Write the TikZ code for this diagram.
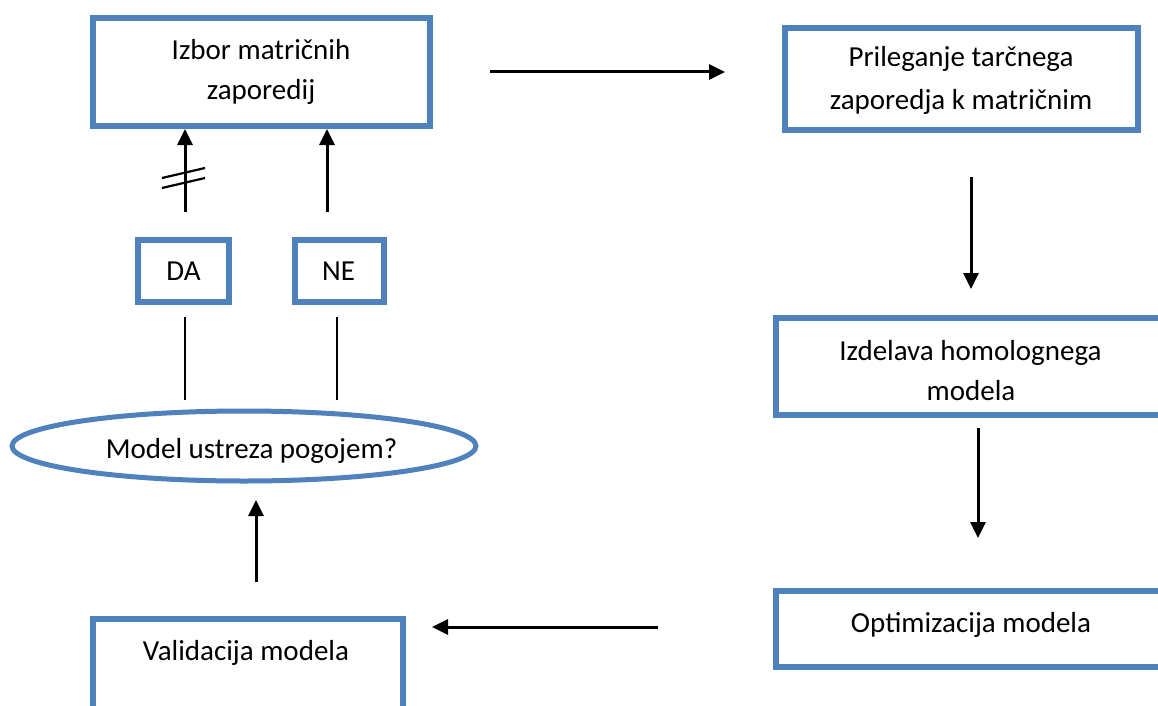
\documentclass[tikz,border=0pt]{standalone}
\usepackage{fontspec}
\setmainfont{Carlito}
\usetikzlibrary{arrows.meta,shapes.geometric}
\definecolor{boxblue}{RGB}{79,129,189}
\begin{document}
\begin{tikzpicture}[x=1pt,y=-1pt,
  box/.style={draw=boxblue,line width=6pt,rectangle,inner sep=0pt,outer sep=0pt},
  oval/.style={draw=boxblue,line width=5pt,ellipse,inner sep=0pt,outer sep=0pt},
  txt/.style={anchor=base,inner sep=0pt,font=\fontsize{29}{35}\selectfont},
  arr/.style={line width=3pt,-{Triangle[length=16pt,width=15pt]}},
  thin line/.style={line width=2pt},
  hash/.style={line width=2.2pt}]
\clip (0,0) rectangle (1158,706);
\fill[white] (0,0) rectangle (1158,706);
% boxes
\node[box,minimum width=337pt,minimum height=108pt] (izbor) at (261.5,72) {};
\node[box,minimum width=353pt,minimum height=102pt] (prileg) at (961.5,79) {};
\node[box,minimum width=390pt,minimum height=97pt] (izdel) at (971,366.5) {};
\node[box,minimum width=390pt,minimum height=76pt] (optim) at (971,629) {};
\node[box,minimum width=310pt,minimum height=111pt] (valid) at (248,674.5) {};
\node[box,minimum width=91pt,minimum height=62pt] (da) at (183.5,271) {};
\node[box,minimum width=89pt,minimum height=62pt] (ne) at (339.5,271) {};
\node[oval,minimum width=464pt,minimum height=70pt] (pogoj) at (244,446) {};
% texts
\node[txt] (t1a) at (261,60) {Izbor matričnih};
\node[txt] (t1b) at (261,100) {zaporedij};
\node[txt] (t2a) at (961,67) {Prileganje tarčnega};
\node[txt] (t2b) at (961,110) {zaporedja k matričnim};
\node[txt] (t3a) at (970.5,360) {Izdelava homolognega};
\node[txt] (t3b) at (971,400) {modela};
\node[txt] (t4) at (971,632) {Optimizacija modela};
\node[txt] (t5) at (246,660) {Validacija modela};
\node[txt] (t6) at (251.5,458) {Model ustreza pogojem?};
\node[txt] (tda) at (183.5,280) {DA};
\node[txt] (tne) at (338.5,280) {NE};
% connector end points
\coordinate (a1s) at (490,72);   \coordinate (a1e) at (725,72);
\coordinate (a2s) at (971,177);  \coordinate (a2e) at (971,289);
\coordinate (a3s) at (978,428);  \coordinate (a3e) at (978,538);
\coordinate (a4s) at (658,627);  \coordinate (a4e) at (432,627);
\coordinate (a5s) at (256,582);  \coordinate (a5e) at (256,500);
\coordinate (a6s) at (185,212);  \coordinate (a6e) at (185,129);
\coordinate (a7s) at (327,212);  \coordinate (a7e) at (327,129);
\coordinate (l1s) at (185,317);  \coordinate (l1e) at (185,400);
\coordinate (l2s) at (337,317);  \coordinate (l2e) at (337,400);
\coordinate (h1s) at (162,178);  \coordinate (h1e) at (205,168);
\coordinate (h2s) at (162,188);  \coordinate (h2e) at (205,178);
% connectors
\draw[arr] (a1s) -- (a1e);
\draw[arr] (a2s) -- (a2e);
\draw[arr] (a3s) -- (a3e);
\draw[arr] (a4s) -- (a4e);
\draw[arr] (a5s) -- (a5e);
\draw[arr] (a6s) -- (a6e);
\draw[arr] (a7s) -- (a7e);
\draw[thin line] (l1s) -- (l1e);
\draw[thin line] (l2s) -- (l2e);
\draw[hash] (h1s) -- (h1e);
\draw[hash] (h2s) -- (h2e);
\end{tikzpicture}
\end{document}
